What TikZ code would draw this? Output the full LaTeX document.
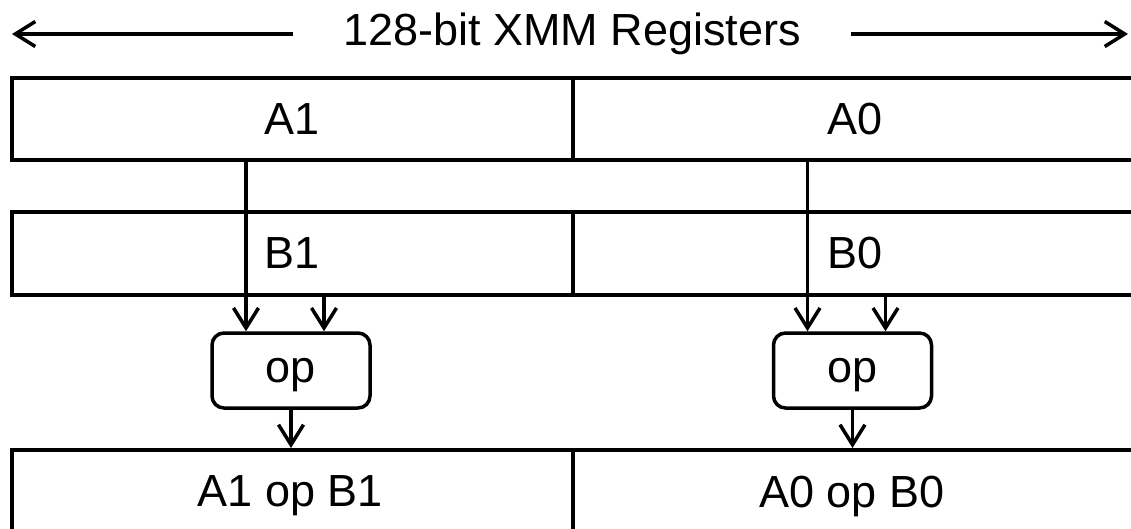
\documentclass[tikz,border=0pt]{standalone}
\usepackage{fontspec}
\setmainfont{Liberation Sans}
\usetikzlibrary{arrows.meta, positioning}

\tikzset{
    cell/.style={draw, line width=3.5pt, inner sep=0pt, anchor=north west},
    opbox/.style={draw, line width=3.5pt, rounded corners=12pt, minimum width=158pt, minimum height=75pt, inner sep=0pt, text depth=0pt},
    flow/.style={line width=3.5pt, -{Straight Barb[length=20pt,width=25pt,line width=3.5pt]}}
}

\begin{document}
\begin{tikzpicture}[x=1pt, y=-1pt, font=\fontsize{45}{54}\selectfont]
        \useasboundingbox (0,0) rectangle (1131,528);
        \coordinate (Lend) at (12,34);
        \coordinate (Rend) at (1128,34);
        
        \node[inner xsep=50pt, inner ysep=0pt] (title) at (572,34) {128-bit XMM Registers};
        \draw[flow] (title.west) -- (Lend);
        \draw[flow] (title.east) -- (Rend);
        
        % registres sources
        \node[cell, minimum width=561pt, minimum height=82pt] (A1) at (10,76) {A1};
        \node[cell, minimum width=564pt, minimum height=82pt] (A0) at (571,76) {A0};
        \node[cell, minimum width=561pt, minimum height=83pt] (B1) at (10,210) {B1};
        \node[cell, minimum width=564pt, minimum height=83pt] (B0) at (571,210) {B0};
        
        % operations
        \node[opbox] (op1) at (291,370.5) {op};
        \node[opbox] (op0) at (852.5,370.5) {op};
        
        % registre destination
        \node[cell, minimum width=561pt, minimum height=100pt] (C1) at (10,448) {};
        \node[cell, minimum width=564pt, minimum height=100pt] (C0) at (571,448) {};
        \node (R1) at (290.5,496) {A1 op B1};
        \node (R0) at (852,496) {A0 op B0};
        
        \draw[flow] ([xshift=-45pt]op1.north |- A1.south) -- ([xshift=-45pt]op1.north);
        \draw[flow] ([xshift=33pt]op1.north |- B1.south) -- ([xshift=33pt]op1.north);
        \draw[flow] ([xshift=-45pt]op0.north |- A0.south) -- ([xshift=-45pt]op0.north);
        \draw[flow] ([xshift=33pt]op0.north |- B0.south) -- ([xshift=33pt]op0.north);
        \draw[flow] (op1.south) -- (op1.south |- C1.north);
        \draw[flow] (op0.south) -- (op0.south |- C0.north);
    \end{tikzpicture}
\end{document}
